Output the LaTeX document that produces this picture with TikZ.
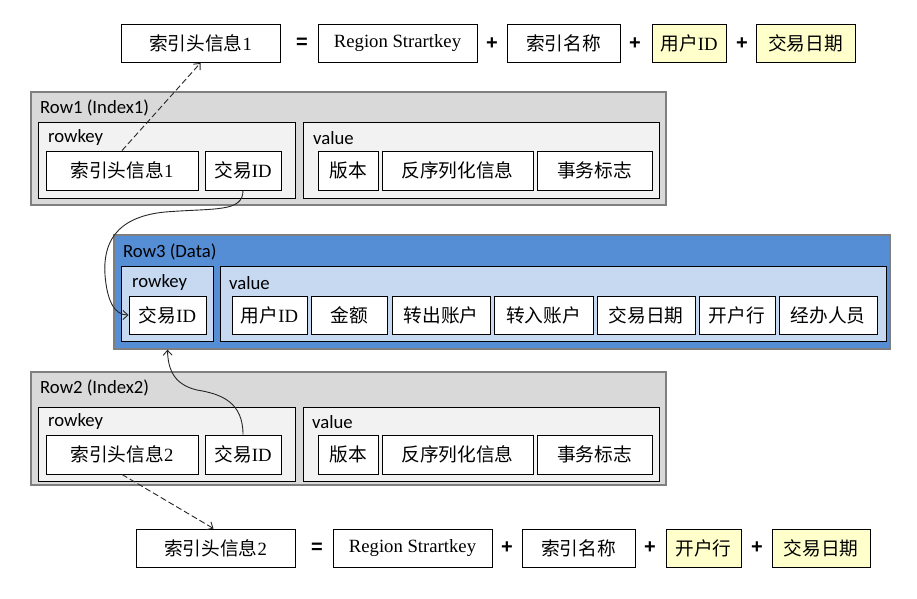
\documentclass[tikz,border=0pt]{standalone}
\usepackage{fontspec}
\setmainfont{Liberation Serif}
\newfontfamily\cjkfont{Noto Sans CJK SC}
\newfontfamily\lblfont{Carlito}
\newfontfamily\opfont{Liberation Sans}
\usetikzlibrary{arrows.meta}
\newcommand\zh[1]{{\cjkfont #1}}
\definecolor{grpgray}{HTML}{D9D9D9}
\definecolor{subgray}{HTML}{F2F2F2}
\definecolor{grpblue}{HTML}{558ED5}
\definecolor{subblue}{HTML}{C6D9F1}
\definecolor{keyyellow}{HTML}{FFFFCC}
\definecolor{edgegray}{HTML}{7F7F7F}
\begin{document}
\begin{tikzpicture}[x=1pt,y=-1pt,
  font=\fontsize{18.7}{22}\selectfont,
  cell/.style={draw=black, line width=0.9pt, fill=white, inner sep=0pt, minimum height=38, minimum width=#1},
  cell/.default=60,
  ycell/.style={cell=#1, fill=keyyellow},
  grp/.style={draw=edgegray, line width=1.3pt, fill=#1, inner sep=0pt},
  sub/.style={draw=black, line width=0.9pt, fill=#1, inner sep=0pt},
  lbl/.style={font=\lblfont\fontsize{18.7}{22}\selectfont, inner sep=0pt, anchor=west},
  op/.style={font=\opfont\bfseries\fontsize{20}{22}\selectfont, inner sep=0pt},
  dasharrow/.style={draw=black!85, line width=0.9pt, dash pattern=on 6pt off 3pt, -{Straight Barb[length=5pt,width=9pt]}},
  curvearrow/.style={draw=black!85, line width=0.9pt, -{Straight Barb[length=5pt,width=9pt]}}
]
\fill[white] (0,0) rectangle (917,598);
\useasboundingbox (0,0) rectangle (917,598);

% ---------- top formula ----------
\node[cell=159] (tidx) at (200.5,43.5) {\zh{索引头信息}1};
\node[op] (teq) at (302,43.5) {=};
\node[cell=159] (treg) at (397.5,43.5) {Region Strartkey};
\node[op] (tp1) at (492,43.5) {+};
\node[cell=113] (tname) at (563.5,43.5) {\zh{索引名称}};
\node[op] (tp2) at (635,43.5) {+};
\node[ycell=74] (tuid) at (689,43.5) {\zh{用户}ID};
\node[op] (tp3) at (742,43.5) {+};
\node[ycell=99] (tdate) at (805.5,43.5) {\zh{交易日期}};

% ---------- Row1 ----------
\node[grp=grpgray, minimum width=635, minimum height=113] (r1) at (348.5,148.5) {};
\node[lbl] (r1l) at (40,108) {Row1 (Index1)};
\node[sub=subgray, minimum width=257, minimum height=76] (rk1) at (166.5,160) {};
\node[lbl] (rk1l) at (48,138) {rowkey};
\node[sub=subgray, minimum width=356, minimum height=76] (v1) at (481,160) {};
\node[lbl] (v1l) at (313,138) {value};
\node[cell=152, minimum height=39] (a1) at (122,170.5) {\zh{索引头信息}1};
\node[cell=76, minimum height=39] (id1) at (243,170.5) {\zh{交易}ID};
\node[cell=60, minimum height=39] (ver1) at (348,170.5) {\zh{版本}};
\node[cell=151, minimum height=39] (des1) at (457.5,170.5) {\zh{反序列化信息}};
\node[cell=115, minimum height=39] (flg1) at (594.5,170.5) {\zh{事务标志}};

% ---------- Row3 ----------
\node[grp=grpblue, minimum width=776, minimum height=114] (r3) at (502,292) {};
\node[lbl] (r3l) at (123,252) {Row3 (Data)};
\node[sub=subblue, minimum width=92, minimum height=75] (rk3) at (167,303.5) {};
\node[lbl] (rk3l) at (132,283) {rowkey};
\node[sub=subblue, minimum width=666, minimum height=75] (v3) at (553,303.5) {};
\node[lbl] (v3l) at (229,283) {value};
\node[cell=77] (id3) at (167.5,315) {\zh{交易}ID};
\node[cell=75] (d1) at (269.5,315) {\zh{用户}ID};
\node[cell=76] (d2) at (349,315) {\zh{金额}};
\node[cell=98] (d3) at (441,315) {\zh{转出账户}};
\node[cell=99] (d4) at (543.5,315) {\zh{转入账户}};
\node[cell=98] (d5) at (646,315) {\zh{交易日期}};
\node[cell=76] (d6) at (737,315) {\zh{开户行}};
\node[cell=98] (d7) at (828,315) {\zh{经办人员}};

% ---------- Row2 ----------
\node[grp=grpgray, minimum width=635, minimum height=113] (r2) at (348.5,428.5) {};
\node[lbl] (r2l) at (40,388) {Row2 (Index2)};
\node[sub=subgray, minimum width=257, minimum height=74] (rk2) at (166.5,444) {};
\node[lbl] (rk2l) at (48,422) {rowkey};
\node[sub=subgray, minimum width=356, minimum height=74] (v2) at (481,444) {};
\node[lbl] (v2l) at (312,422) {value};
\node[cell=152, minimum height=39] (a2) at (122,454.5) {\zh{索引头信息}2};
\node[cell=76, minimum height=39] (id2) at (243,454.5) {\zh{交易}ID};
\node[cell=60, minimum height=39] (ver2) at (348,454.5) {\zh{版本}};
\node[cell=151, minimum height=39] (des2) at (457.5,454.5) {\zh{反序列化信息}};
\node[cell=115, minimum height=39] (flg2) at (594.5,454.5) {\zh{事务标志}};

% ---------- bottom formula ----------
\node[cell=159] (bidx) at (215.5,548) {\zh{索引头信息}2};
\node[op] (beq) at (317,548) {=};
\node[cell=159] (breg) at (412.5,548) {Region Strartkey};
\node[op] (bp1) at (507,548) {+};
\node[cell=113] (bname) at (578.5,548) {\zh{索引名称}};
\node[op] (bp2) at (650,548) {+};
\node[ycell=75] (bbank) at (703.5,548) {\zh{开户行}};
\node[op] (bp3) at (757,548) {+};
\node[ycell=98] (bdate) at (821,548) {\zh{交易日期}};

% ---------- connectors ----------
\coordinate (r3in) at (r3.south -| id3);
\draw[dasharrow] (a1.north) -- (tidx.south);
\draw[dasharrow] (a2.south) -- ([xshift=-2pt]bidx.north);
\draw[curvearrow] (id1.south) .. controls +(0,22) and (215,208) .. (165,212)
  .. controls (114,217) and (103,245) .. (105,275)
  .. controls (107,300) and (114,315) .. (id3.west);
\draw[curvearrow] (id2.north) .. controls +(0,-32) and (222,394) .. (197,390)
  .. controls (176,385) and (168,372) .. (r3in);
\end{tikzpicture}
\end{document}
